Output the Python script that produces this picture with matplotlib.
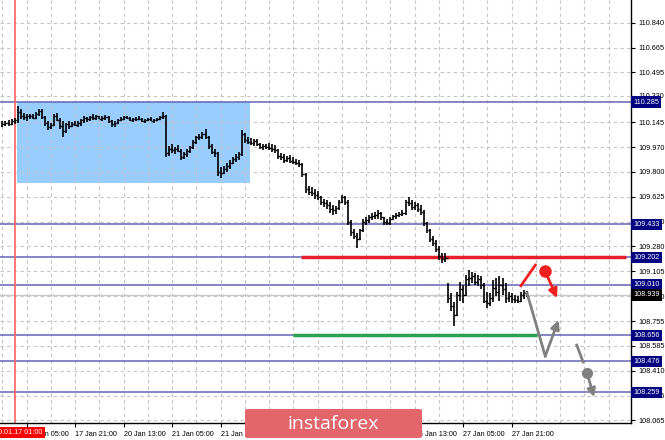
import numpy as np
import matplotlib
matplotlib.use("Agg")
import matplotlib.pyplot as plt
from matplotlib.patches import Rectangle, FancyBboxPatch
from matplotlib.transforms import blended_transform_factory

plt.rcParams['font.family'] = ['Liberation Sans', 'DejaVu Sans']

# hourly bars (H1), one entry per bar
highs = [110.150, 110.150, 110.160, 110.165, 110.175, 110.260, 110.240, 110.210, 110.200, 110.205,
         110.200, 110.215, 110.240, 110.235, 110.190, 110.150, 110.140, 110.200, 110.210, 110.175,
         110.150, 110.140, 110.150, 110.145, 110.155, 110.150, 110.170, 110.185, 110.180, 110.190,
         110.200, 110.195, 110.190, 110.185, 110.195, 110.190, 110.160, 110.150, 110.165, 110.180,
         110.185, 110.190, 110.180, 110.175, 110.180, 110.185, 110.175, 110.170, 110.175, 110.180,
         110.170, 110.175, 110.190, 110.215, 110.195, 109.980, 109.990, 109.975, 109.985, 109.960,
         109.935, 109.955, 109.980, 110.020, 110.050, 110.060, 110.075, 110.100, 110.050, 109.995,
         109.960, 109.940, 109.830, 109.840, 109.860, 109.880, 109.905, 109.925, 109.940, 110.090,
         110.070, 110.040, 110.035, 110.030, 110.025, 110.000, 109.990, 109.995, 110.000, 109.990,
         109.985, 109.960, 109.930, 109.920, 109.910, 109.915, 109.900, 109.890, 109.880, 109.860,
         109.790, 109.700, 109.690, 109.680, 109.665, 109.630, 109.610, 109.600, 109.590, 109.570,
         109.560, 109.600, 109.640, 109.630, 109.600, 109.460, 109.400, 109.370, 109.400, 109.470,
         109.480, 109.500, 109.510, 109.520, 109.530, 109.520, 109.480, 109.470, 109.480, 109.500,
         109.510, 109.520, 109.530, 109.600, 109.620, 109.600, 109.590, 109.580, 109.570, 109.530,
         109.450, 109.400, 109.350, 109.320, 109.280, 109.230, 109.230, 109.020, 108.950, 108.890,
         108.960, 109.030, 109.010, 109.080, 109.110, 109.100, 109.090, 109.080, 109.070, 109.020,
         108.960, 108.950, 109.040, 109.060, 109.070, 109.060, 109.020, 108.960, 108.950, 108.940,
         108.930, 108.960, 108.970, 108.965]
lows = [110.110, 110.115, 110.120, 110.125, 110.130, 110.140, 110.170, 110.160, 110.150, 110.170,
        110.165, 110.170, 110.185, 110.170, 110.120, 110.090, 110.095, 110.115, 110.150, 110.100,
        110.040, 110.070, 110.100, 110.110, 110.115, 110.110, 110.120, 110.140, 110.145, 110.155,
        110.160, 110.160, 110.165, 110.155, 110.160, 110.140, 110.110, 110.110, 110.130, 110.150,
        110.160, 110.165, 110.150, 110.145, 110.155, 110.160, 110.145, 110.140, 110.150, 110.150,
        110.140, 110.150, 110.160, 110.170, 109.900, 109.910, 109.930, 109.920, 109.935, 109.880,
        109.885, 109.905, 109.930, 109.960, 109.995, 110.020, 110.030, 110.030, 109.960, 109.920,
        109.900, 109.770, 109.755, 109.780, 109.800, 109.820, 109.850, 109.870, 109.880, 109.910,
        110.000, 109.990, 109.985, 109.980, 109.980, 109.955, 109.950, 109.960, 109.950, 109.940,
        109.930, 109.890, 109.880, 109.860, 109.870, 109.860, 109.850, 109.845, 109.830, 109.760,
        109.650, 109.640, 109.630, 109.610, 109.600, 109.570, 109.555, 109.540, 109.510, 109.500,
        109.505, 109.530, 109.580, 109.570, 109.430, 109.350, 109.330, 109.270, 109.320, 109.380,
        109.430, 109.440, 109.460, 109.470, 109.470, 109.460, 109.430, 109.425, 109.430, 109.460,
        109.470, 109.480, 109.490, 109.500, 109.560, 109.530, 109.530, 109.520, 109.500, 109.420,
        109.370, 109.310, 109.280, 109.240, 109.180, 109.160, 109.170, 108.880, 108.830, 108.720,
        108.790, 108.900, 108.880, 108.930, 109.000, 109.020, 109.010, 109.000, 108.980, 108.880,
        108.850, 108.860, 108.890, 108.930, 108.900, 108.940, 108.880, 108.890, 108.880, 108.885,
        108.880, 108.890, 108.910, 108.925]
closes = [110.130, 110.140, 110.135, 110.150, 110.160, 110.215, 110.190, 110.180, 110.190, 110.185,
          110.175, 110.200, 110.225, 110.180, 110.140, 110.110, 110.125, 110.185, 110.160, 110.120,
          110.080, 110.130, 110.120, 110.135, 110.125, 110.140, 110.160, 110.175, 110.165, 110.180,
          110.175, 110.185, 110.170, 110.175, 110.180, 110.150, 110.130, 110.140, 110.160, 110.170,
          110.180, 110.175, 110.160, 110.165, 110.170, 110.165, 110.155, 110.160, 110.165, 110.155,
          110.160, 110.170, 110.180, 110.190, 109.930, 109.960, 109.950, 109.960, 109.945, 109.900,
          109.920, 109.945, 109.970, 110.010, 110.040, 110.045, 110.060, 110.040, 109.980, 109.940,
          109.930, 109.800, 109.790, 109.820, 109.840, 109.860, 109.890, 109.900, 109.920, 110.060,
          110.020, 110.010, 110.000, 110.015, 109.990, 109.970, 109.980, 109.975, 109.965, 109.960,
          109.950, 109.910, 109.900, 109.880, 109.895, 109.875, 109.870, 109.860, 109.850, 109.780,
          109.680, 109.660, 109.650, 109.640, 109.620, 109.590, 109.580, 109.570, 109.540, 109.530,
          109.545, 109.590, 109.620, 109.590, 109.450, 109.380, 109.350, 109.330, 109.390, 109.450,
          109.460, 109.480, 109.490, 109.500, 109.510, 109.480, 109.450, 109.440, 109.470, 109.490,
          109.495, 109.505, 109.510, 109.590, 109.580, 109.550, 109.570, 109.540, 109.520, 109.440,
          109.390, 109.330, 109.300, 109.260, 109.210, 109.190, 109.200, 108.920, 108.860, 108.800,
          108.940, 108.980, 108.940, 109.050, 109.060, 109.070, 109.030, 109.050, 109.010, 108.900,
          108.880, 108.920, 108.990, 108.960, 109.010, 108.980, 108.920, 108.930, 108.910, 108.905,
          108.900, 108.940, 108.950, 108.939]
first_open = 110.120

levels = [110.285, 109.433, 109.202, 109.010, 108.656, 108.476, 108.259]
bid = 108.939
ytick_vals = [110.840, 110.665, 110.495, 110.330, 110.145, 109.970, 109.800, 109.625, 109.450,
              109.280, 109.105, 108.930, 108.755, 108.585, 108.410, 108.235, 108.065]
xtick_bars = [8, 24, 40, 56, 72, 88, 104, 120, 136, 152, 168]
xtick_labels = ["17 Jan 05:00", "17 Jan 21:00", "20 Jan 13:00", "21 Jan 05:00", "21 Jan 21:00",
                "22 Jan 13:00", "23 Jan 05:00", "23 Jan 21:00", "24 Jan 13:00", "27 Jan 05:00",
                "27 Jan 21:00"]
marker_bar = 4
marker_label = "2020.01.17 01:00"

# range box
box_x = [4.8, 81.7]
box_y = [109.723, 110.285]

# support / resistance segments
red_level_x = [98.5, 205.8]
red_level = 109.202
green_level_x = [95.9, 176.4]
green_level = 108.656

# forecast sketches
red_up_x, red_up_y = [170.8, 176.1], [108.995, 109.155]
red_dot = (179.1, 109.103)
red_tip = (183.0, 108.918)
gray_x, gray_y = [173.1, 179.1], [108.952, 108.512]
gray_tip = (183.5, 108.764)
gray2_x, gray2_y = [189.5, 191.6], [108.589, 108.471]
gray_dot = (192.9, 108.394)
gray_tip2 = (195.2, 108.226)

W, H = 665, 440
fig = plt.figure(figsize=(W / 100, H / 100), dpi=100)
ax = fig.add_axes([0, 17 / H, 631 / W, 423 / H])
ax.set_xlim(-0.81, 207.4)
ax.set_ylim(108.045, 110.998)

idx = np.arange(len(closes))
opens = np.r_[first_open, closes[:-1]]

ax.add_patch(Rectangle((box_x[0], box_y[0]), box_x[1] - box_x[0], box_y[1] - box_y[0],
                       facecolor='#99ccff', edgecolor='none', zorder=0.3))

ax.set_axisbelow(True)
ax.set_yticks(ytick_vals)
ax.set_xticks(xtick_bars)
ax.set_xticks(np.arange(0, 208, 8), minor=True)
ax.grid(True, which='both', color='#c4c4c4', linestyle=(0, (3, 3)), linewidth=0.8)

for lv in levels:
    ax.axhline(lv, color='#6464b4', lw=1.1, zorder=1)
ax.axhline(bid, color='#c8c8c8', lw=1.0, zorder=1)
ax.axvline(marker_bar, color='#ff6060', lw=1.2, zorder=1)

ax.plot(red_level_x, [red_level] * 2, color='#e8202a', lw=2.5, zorder=2, solid_capstyle='butt')
ax.plot(green_level_x, [green_level] * 2, color='#2aa050', lw=2.5, zorder=2, solid_capstyle='butt')

ax.vlines(idx, lows, highs, color='black', lw=1.2, zorder=3)
ax.hlines(opens, idx - 0.5, idx, color='black', lw=1.0, zorder=3)
ax.hlines(closes, idx, idx + 0.5, color='black', lw=1.0, zorder=3)

# forecast arrows
red_c, gray_c = '#f02020', '#808080'
ax.plot(red_up_x, red_up_y, color=red_c, lw=2, zorder=4, solid_capstyle='butt')
ax.plot(*red_dot, 'o', color=red_c, ms=8, zorder=4)
ax.annotate('', xy=red_tip, xytext=red_dot, zorder=4,
            arrowprops=dict(arrowstyle='-|>', color=red_c, lw=2, mutation_scale=13, shrinkA=0, shrinkB=0))
ax.plot(gray_x, gray_y, color=gray_c, lw=2, zorder=4)
ax.annotate('', xy=gray_tip, xytext=(gray_x[-1], gray_y[-1]), zorder=4,
            arrowprops=dict(arrowstyle='-|>', color=gray_c, lw=2, mutation_scale=13, shrinkA=0, shrinkB=0))
ax.plot(gray2_x, gray2_y, color=gray_c, lw=2, zorder=4)
ax.plot(*gray_dot, 'o', color=gray_c, ms=7, zorder=4)
ax.annotate('', xy=gray_tip2, xytext=gray_dot, zorder=4,
            arrowprops=dict(arrowstyle='-|>', color=gray_c, lw=2, mutation_scale=12, shrinkA=0, shrinkB=0))

# axes styling
for s in ['top', 'left']:
    ax.spines[s].set_visible(False)
for s in ['right', 'bottom']:
    ax.spines[s].set_color('black')
    ax.spines[s].set_linewidth(1.0)
ax.yaxis.tick_right()
ax.tick_params(axis='y', which='major', length=3, width=0.8, pad=2, labelsize=5.2, colors='black')
ax.tick_params(axis='x', which='major', length=3, width=0.8, pad=3, labelsize=5.2)
ax.tick_params(axis='x', which='minor', length=0)
ax.set_yticklabels([f'{v:.3f}' for v in ytick_vals])
ax.set_xticklabels(xtick_labels, ha='left')

ytr = blended_transform_factory(ax.transAxes, ax.transData)
for lv in levels:
    ax.text(1.0035, lv, f'{lv:.3f}', transform=ytr, fontsize=5.2, color='white', va='center',
            ha='left', clip_on=False, zorder=6,
            bbox=dict(boxstyle='square,pad=0.3', fc='#000080', ec='none'))
ax.text(1.0035, bid, f'{bid:.3f}', transform=ytr, fontsize=5.2, color='white', va='center',
        ha='left', clip_on=False, zorder=6,
        bbox=dict(boxstyle='square,pad=0.3', fc='black', ec='none'))

xtr = blended_transform_factory(ax.transData, ax.transAxes)
ax.text(marker_bar, -0.022, marker_label, transform=xtr, fontsize=5.2, color='white', va='center',
        ha='center', clip_on=False, zorder=6,
        bbox=dict(boxstyle='square,pad=0.25', fc='#ff0000', ec='none'))

# logo
fig.patches.append(FancyBboxPatch((245 / W, 2 / H), 177 / W, 29 / H, transform=fig.transFigure,
                                  boxstyle='round,pad=0,rounding_size=0.004',
                                  fc='#e2666b', ec='none', zorder=10))
fig.text(333 / W, 16.5 / H, 'instaforex', color='white', fontsize=14, ha='center', va='center',
         family=['Open Sans', 'DejaVu Sans'], zorder=11)

fig.savefig('out.png', dpi=100)
